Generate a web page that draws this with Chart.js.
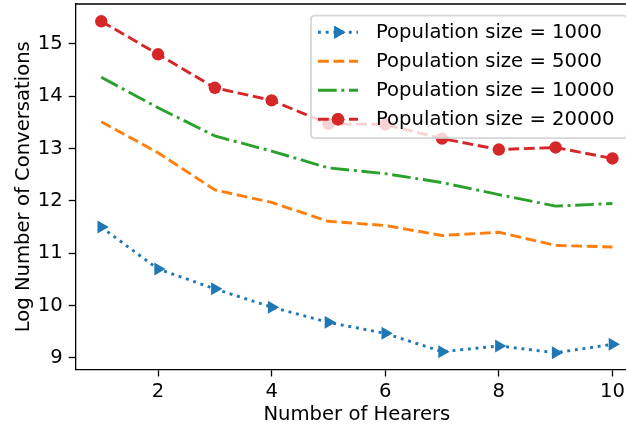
<!DOCTYPE html>
<html>
<head>
<meta charset="utf-8">
<script src="https://cdn.jsdelivr.net/npm/chart.js@4.4.1/dist/chart.umd.min.js"></script>
<style>
  html, body { margin: 0; padding: 0; background: #fff; overflow: hidden; }
  #wrap { width: 638px; height: 428px; position: relative; }
</style>
</head>
<body>
<div id="wrap"><canvas id="c"></canvas></div>
<script>
const hearers = [1, 2, 3, 4, 5, 6, 7, 8, 9, 10];
const pop1000  = [11.50, 10.70, 10.32, 9.97, 9.68, 9.47, 9.12, 9.23, 9.10, 9.26];
const pop5000  = [13.51, 12.92, 12.21, 11.97, 11.61, 11.53, 11.34, 11.40, 11.15, 11.12];
const pop10000 = [14.36, 13.78, 13.24, 12.95, 12.63, 12.52, 12.35, 12.12, 11.90, 11.95];
const pop20000 = [15.43, 14.80, 14.16, 13.92, 13.47, 13.46, 13.19, 12.98, 13.02, 12.81];
const seriesLabels = ["Population size = 1000", "Population size = 5000", "Population size = 10000", "Population size = 20000"];
const xTicks = [2, 4, 6, 8, 10];
const yTicks = [9, 10, 11, 12, 13, 14, 15];

const FONT = "DejaVu Sans";
const FS = 19.6;
const LW = 2.9;

const styles = [
  { color: '#1f77b4', dash: [2.9, 4.8], point: 'triangle', rot: 90, r: 7.5 },
  { color: '#ff7f0e', dash: [10.8, 4.7], point: false, r: 0 },
  { color: '#2ca02c', dash: [18.7, 4.7, 2.9, 4.7], point: false, r: 0 },
  { color: '#d62728', dash: [10.8, 4.7], point: 'circle', rot: 0, r: 6.2 }
];
const seriesData = [pop1000, pop5000, pop10000, pop20000];

const datasets = seriesData.map((vals, i) => ({
  label: seriesLabels[i],
  data: hearers.map((x, j) => ({ x: x, y: vals[j] })),
  borderColor: styles[i].color,
  backgroundColor: styles[i].color,
  borderWidth: LW,
  borderDash: styles[i].dash,
  borderCapStyle: 'butt',
  tension: 0,
  pointStyle: styles[i].point || 'circle',
  pointRotation: styles[i].rot || 0,
  pointRadius: styles[i].r,
  pointHoverRadius: styles[i].r,
  pointBorderWidth: 0,
  pointBackgroundColor: styles[i].color
}));

function noPad(scale) {
  scale.paddingTop = 0; scale.paddingBottom = 0;
  scale.paddingLeft = 0; scale.paddingRight = 0;
}

const framePlugin = {
  id: 'frame',
  afterDatasetsDraw(chart) {
    const ctx = chart.ctx;
    const a = chart.chartArea;
    ctx.save();
    ctx.strokeStyle = '#000';
    ctx.lineWidth = 1.3;
    ctx.beginPath();
    ctx.moveTo(a.left, a.top);
    ctx.lineTo(a.right + 2, a.top);
    ctx.stroke();
    ctx.restore();

    // legend
    const lx = 311, ly = 15.7, lw = 316, lh = 122.5, rr = 4;
    ctx.save();
    ctx.beginPath();
    ctx.moveTo(lx + rr, ly);
    ctx.lineTo(lx + lw - rr, ly);
    ctx.quadraticCurveTo(lx + lw, ly, lx + lw, ly + rr);
    ctx.lineTo(lx + lw, ly + lh - rr);
    ctx.quadraticCurveTo(lx + lw, ly + lh, lx + lw - rr, ly + lh);
    ctx.lineTo(lx + rr, ly + lh);
    ctx.quadraticCurveTo(lx, ly + lh, lx, ly + lh - rr);
    ctx.lineTo(lx, ly + rr);
    ctx.quadraticCurveTo(lx, ly, lx + rr, ly);
    ctx.closePath();
    ctx.fillStyle = 'rgba(255,255,255,0.8)';
    ctx.fill();
    ctx.strokeStyle = 'rgba(204,204,204,0.8)';
    ctx.lineWidth = 1.8;
    ctx.stroke();

    const rowY = [32.3, 61.3, 90.3, 119.3];
    for (let i = 0; i < 4; i++) {
      const y = rowY[i];
      const s = styles[i];
      ctx.save();
      ctx.strokeStyle = s.color;
      ctx.lineWidth = LW;
      ctx.lineCap = 'butt';
      ctx.setLineDash(s.dash);
      ctx.beginPath();
      ctx.moveTo(318, y);
      ctx.lineTo(358, y);
      ctx.stroke();
      ctx.restore();
      if (s.point) {
        ctx.save();
        ctx.fillStyle = s.color;
        Chart.helpers.drawPoint(ctx, { pointStyle: s.point, rotation: s.rot, radius: s.r, borderWidth: 0 }, 338, y);
        ctx.fill();
        ctx.restore();
      }
      ctx.fillStyle = '#000';
      ctx.font = FS + 'px "' + FONT + '"';
      ctx.textBaseline = 'middle';
      ctx.textAlign = 'left';
      ctx.fillText(seriesLabels[i], 376, y + 1);
    }
    ctx.restore();
  }
};

new Chart(document.getElementById('c'), {
  type: 'line',
  data: { datasets: datasets },
  options: {
    responsive: true,
    maintainAspectRatio: false,
    animation: false,
    devicePixelRatio: 1,
    layout: { autoPadding: false, padding: { top: 4, right: 0, left: 0, bottom: 0 } },
    plugins: { legend: { display: false }, tooltip: { enabled: false } },
    scales: {
      x: {
        type: 'linear',
        min: 0.55,
        max: 10.45,
        afterBuildTicks(scale) { scale.ticks = xTicks.map(v => ({ value: v })); },
        afterFit(scale) { scale.height = 58.5; noPad(scale); },
        grid: { display: true, drawOnChartArea: false, drawTicks: true, tickLength: 7, tickColor: '#000', tickWidth: 1.3 },
        border: { display: true, color: '#000', width: 1.3 },
        ticks: { color: '#000', font: { family: FONT, size: FS }, padding: 4, maxRotation: 0 },
        title: { display: true, text: 'Number of Hearers', color: '#000', font: { family: FONT, size: FS }, padding: { top: 0, bottom: 1 } }
      },
      y: {
        type: 'linear',
        min: 8.78,
        max: 15.76,
        afterBuildTicks(scale) { scale.ticks = yTicks.map(v => ({ value: v })); },
        afterFit(scale) { scale.width = 75.7; noPad(scale); },
        grid: { display: true, drawOnChartArea: false, drawTicks: true, tickLength: 7, tickColor: '#000', tickWidth: 1.3 },
        border: { display: true, color: '#000', width: 1.3 },
        ticks: { color: '#000', font: { family: FONT, size: FS }, padding: 6 },
        title: { display: true, text: 'Log Number of Conversations', color: '#000', font: { family: FONT, size: FS }, padding: { top: 12, bottom: 0 } }
      }
    }
  },
  plugins: [framePlugin]
});
</script>
</body>
</html>
